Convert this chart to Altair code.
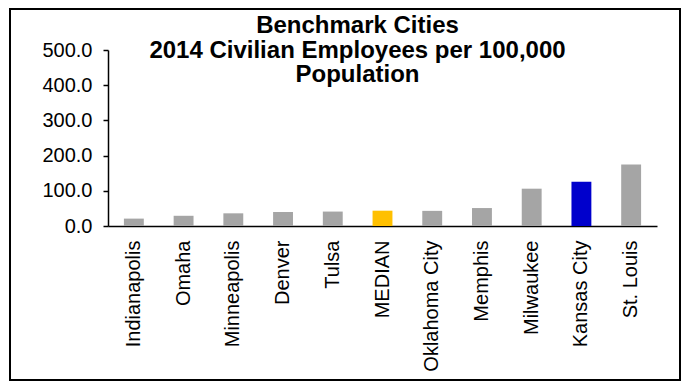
import altair as alt
import pandas as pd

cities = ["Indianapolis", "Omaha", "Minneapolis", "Denver", "Tulsa", "MEDIAN",
          "Oklahoma City", "Memphis", "Milwaukee", "Kansas City", "St. Louis"]
values = [21, 29, 36, 40, 41, 43.5, 43, 51, 106, 126, 175]
colors = ["#A5A5A5", "#A5A5A5", "#A5A5A5", "#A5A5A5", "#A5A5A5", "#FFC000",
          "#A5A5A5", "#A5A5A5", "#A5A5A5", "#0000CC", "#A5A5A5"]
y_ticks = [0, 100, 200, 300, 400, 500]
title_lines = ["Benchmark Cities", "2014 Civilian Employees per 100,000", "Population"]

df = pd.DataFrame({"city": cities, "value": values, "color": colors})

FONT = "Liberation Sans"

bars = alt.Chart(df).mark_bar().encode(
    x=alt.X("city:N", sort=cities,
            scale=alt.Scale(paddingInner=0.6, paddingOuter=0.32),
            axis=alt.Axis(title=None, labelAngle=-90, labelAlign="right",
                          labelBaseline="middle", ticks=False, labelPadding=14,
                          labelFont=FONT, labelFontSize=20, labelColor="#000000",
                          domainColor="#000000", domainWidth=1.5, labelLimit=300)),
    y=alt.Y("value:Q", scale=alt.Scale(domain=[0, 500], nice=False),
            axis=alt.Axis(title=None, values=y_ticks, format=".1f", grid=False,
                          tickSize=5, tickColor="#000000", tickWidth=1.5,
                          labelPadding=11, labelFont=FONT, labelFontSize=20,
                          labelColor="#000000", domainColor="#000000",
                          domainWidth=1.5)),
    color=alt.Color("color:N", scale=None),
)

border = alt.Chart(pd.DataFrame({"a": [0]})).mark_rect(
    fill=None, stroke="#000000", strokeWidth=2
).encode(
    x=alt.value(-98), x2=alt.value(572), y=alt.value(-41), y2=alt.value(330)
)

chart = alt.layer(border, bars).properties(
    width=549, height=176,
    autosize=alt.AutoSizeParams(type="none"),
    padding={"left": 100, "top": 42, "right": 24, "bottom": 155},
    title=alt.TitleParams(text=title_lines, anchor="middle", frame="group",
                          dx=-25, fontSize=24, font=FONT, fontWeight="bold",
                          lineHeight=24.5, color="#000000", offset=-79),
).configure_view(stroke=None)

chart.save("out.html", embed_options={"renderer": "svg", "actions": False})
